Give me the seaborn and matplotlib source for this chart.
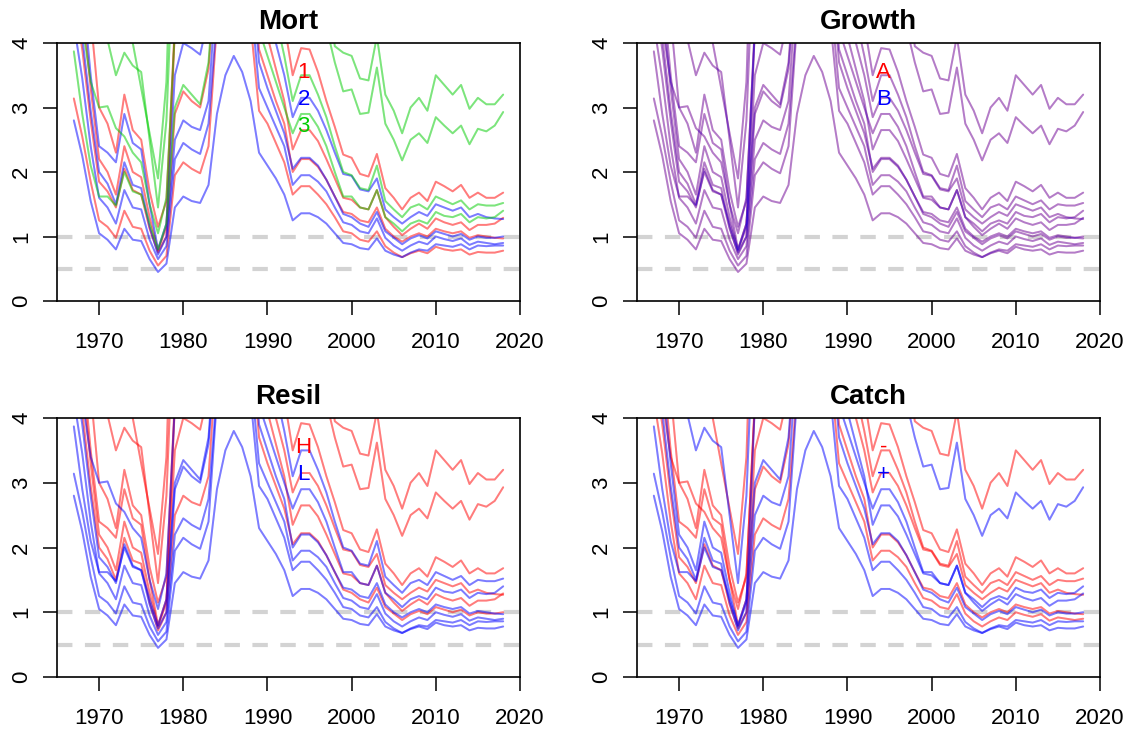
import numpy as np
import pandas as pd
import seaborn as sns
import matplotlib
matplotlib.use('Agg')
import matplotlib.pyplot as plt

sns.set_style('ticks')
plt.rcParams['font.family'] = ['Liberation Sans', 'DejaVu Sans']
plt.rcParams['text.color'] = 'black'
plt.rcParams['xtick.color'] = 'black'
plt.rcParams['ytick.color'] = 'black'

years = list(range(1967, 2019))

# one trajectory per mort x resil x catch scenario (growth A/B are almost identical)
m3_h_minus = [9.00, 7.20, 5.60, 4.80, 4.70, 4.50, 5.00, 4.00, 3.30, 2.60,
              1.90, 3.40, 7.50, 8.20, 7.80, 7.60, 8.60, 13.0, 15.0, 16.0,
              15.0, 13.0, 10.0, 8.80, 7.80, 6.80, 5.60, 6.20, 6.20, 5.80,
              5.00, 3.95, 3.85, 3.80, 3.45, 3.42, 4.10, 3.20, 2.95, 2.60,
              3.00, 3.15, 2.95, 3.50, 3.35, 3.20, 3.35, 2.98, 3.15, 3.05,
              3.05, 3.20]
m3_h_plus = [7.00, 5.50, 4.60, 4.20, 4.05, 3.50, 3.85, 3.65, 3.55, 2.50,
             1.45, 2.80, 6.00, 6.60, 6.30, 6.10, 7.00, 10.5, 12.0, 12.8,
             12.0, 10.5, 8.00, 7.00, 6.20, 5.40, 4.50, 5.00, 5.00, 4.70,
             4.25, 3.70, 3.25, 3.28, 2.90, 2.92, 3.62, 2.75, 2.50, 2.18,
             2.50, 2.60, 2.45, 2.85, 2.72, 2.60, 2.72, 2.43, 2.67, 2.63,
             2.72, 2.93]
m3_l_minus = [5.50, 4.30, 3.40, 3.00, 3.02, 2.68, 2.55, 2.30, 2.15, 1.50,
              1.05, 1.60, 4.20, 4.60, 4.40, 4.30, 5.00, 7.50, 8.80, 9.40,
              8.90, 7.70, 5.60, 5.00, 4.40, 3.80, 3.10, 3.50, 3.50, 3.20,
              2.85, 2.40, 2.00, 1.95, 1.75, 1.72, 2.10, 1.55, 1.42, 1.30,
              1.45, 1.50, 1.42, 1.62, 1.56, 1.50, 1.56, 1.42, 1.50, 1.48,
              1.48, 1.52]
m3_l_plus = [3.87, 2.90, 2.10, 1.62, 1.62, 1.48, 2.00, 1.70, 1.65, 1.20,
             0.80, 1.20, 3.00, 3.35, 3.20, 3.05, 3.70, 5.50, 6.50, 7.00,
             6.60, 5.80, 4.20, 3.80, 3.40, 3.00, 2.60, 2.90, 2.90, 2.70,
             2.40, 2.00, 1.62, 1.62, 1.45, 1.42, 1.72, 1.30, 1.20, 1.08,
             1.20, 1.25, 1.20, 1.38, 1.32, 1.30, 1.35, 1.22, 1.30, 1.28,
             1.30, 1.40]
m1_h_minus = [7.50, 6.00, 4.40, 3.00, 2.75, 2.30, 3.20, 2.65, 2.50, 1.70,
              1.15, 1.55, 4.30, 4.90, 4.70, 4.50, 5.30, 8.30, 9.70, 10.4,
              9.80, 8.50, 6.50, 5.70, 5.00, 4.30, 3.50, 3.92, 3.90, 3.55,
              3.10, 2.70, 2.27, 2.22, 1.97, 1.93, 2.28, 1.75, 1.60, 1.42,
              1.60, 1.68, 1.55, 1.85, 1.78, 1.70, 1.80, 1.60, 1.68, 1.60,
              1.60, 1.68]
m1_h_plus = [5.60, 4.60, 3.30, 2.20, 2.00, 1.65, 2.40, 2.00, 1.92, 1.30,
             0.78, 1.15, 4.20, 4.60, 4.50, 4.40, 5.00, 6.40, 7.50, 8.10,
             7.60, 6.60, 4.70, 4.10, 3.60, 3.10, 2.35, 2.65, 2.65, 2.48,
             2.20, 1.90, 1.60, 1.57, 1.45, 1.42, 1.72, 1.30, 1.15, 1.02,
             1.12, 1.20, 1.12, 1.28, 1.22, 1.18, 1.22, 1.10, 1.18, 1.18,
             1.20, 1.29]
m1_l_minus = [4.80, 3.90, 2.80, 1.85, 1.70, 1.45, 2.05, 1.72, 1.65, 1.12,
              0.75, 1.00, 2.90, 3.25, 3.10, 3.00, 3.60, 5.30, 6.30, 6.80,
              6.40, 5.60, 3.90, 3.50, 3.10, 2.75, 2.00, 2.20, 2.20, 2.08,
              1.88, 1.62, 1.38, 1.35, 1.25, 1.22, 1.45, 1.12, 1.00, 0.92,
              1.00, 1.05, 1.00, 1.12, 1.08, 1.05, 1.08, 0.98, 1.02, 1.00,
              0.98, 0.97]
m1_l_plus = [3.14, 2.55, 1.85, 1.25, 1.15, 0.98, 1.40, 1.15, 1.12, 0.78,
             0.55, 0.70, 1.95, 2.15, 2.05, 1.98, 2.40, 4.30, 5.00, 5.30,
             5.00, 4.30, 2.95, 2.75, 2.45, 2.15, 1.65, 1.78, 1.78, 1.65,
             1.50, 1.30, 1.08, 1.05, 0.95, 0.92, 1.08, 0.85, 0.75, 0.68,
             0.74, 0.78, 0.74, 0.84, 0.80, 0.78, 0.80, 0.72, 0.76, 0.75,
             0.75, 0.78]
m2_h_minus = [6.00, 4.90, 3.50, 2.40, 2.30, 2.15, 2.90, 2.45, 2.35, 1.50,
              0.80, 1.20, 3.50, 4.00, 3.92, 3.82, 4.40, 6.80, 8.00, 8.60,
              8.10, 7.00, 5.00, 4.50, 4.00, 3.50, 2.85, 3.15, 3.15, 2.95,
              2.65, 2.30, 1.97, 1.94, 1.73, 1.70, 1.90, 1.42, 1.30, 1.20,
              1.30, 1.38, 1.32, 1.50, 1.45, 1.40, 1.45, 1.30, 1.35, 1.30,
              1.28, 1.27]
m2_h_plus = [5.00, 4.10, 2.95, 2.00, 1.82, 1.50, 2.15, 1.80, 1.75, 1.15,
             0.72, 1.00, 2.50, 2.80, 2.70, 2.65, 3.10, 5.00, 6.00, 6.50,
             6.10, 5.30, 3.70, 3.30, 2.95, 2.60, 2.05, 2.22, 2.22, 2.10,
             1.88, 1.62, 1.35, 1.30, 1.20, 1.15, 1.38, 1.08, 0.98, 0.88,
             0.97, 1.02, 0.97, 1.08, 1.04, 1.00, 1.04, 0.95, 1.00, 0.98,
             0.98, 1.00]
m2_l_minus = [4.30, 3.45, 2.40, 1.60, 1.45, 1.20, 1.72, 1.45, 1.42, 0.95,
              0.65, 0.85, 2.20, 2.45, 2.35, 2.28, 2.75, 4.40, 5.30, 5.80,
              5.40, 4.70, 3.30, 3.00, 2.70, 2.40, 1.80, 1.95, 1.95, 1.85,
              1.70, 1.45, 1.22, 1.18, 1.08, 1.05, 1.28, 0.98, 0.86, 0.78,
              0.86, 0.92, 0.88, 1.00, 0.96, 0.93, 0.97, 0.87, 0.92, 0.90,
              0.88, 0.90]
m2_l_plus = [2.80, 2.25, 1.55, 1.05, 0.95, 0.80, 1.12, 0.95, 0.93, 0.65,
             0.45, 0.58, 1.45, 1.62, 1.55, 1.52, 1.80, 2.90, 3.50, 3.80,
             3.55, 3.10, 2.30, 2.10, 1.90, 1.65, 1.25, 1.36, 1.36, 1.30,
             1.20, 1.05, 0.90, 0.88, 0.82, 0.80, 0.97, 0.78, 0.72, 0.68,
             0.75, 0.80, 0.78, 0.88, 0.86, 0.84, 0.88, 0.80, 0.86, 0.85,
             0.86, 0.86]

scenarios = [
    ('1', 'H', '-', m1_h_minus), ('1', 'H', '+', m1_h_plus),
    ('1', 'L', '-', m1_l_minus), ('1', 'L', '+', m1_l_plus),
    ('2', 'H', '-', m2_h_minus), ('2', 'H', '+', m2_h_plus),
    ('2', 'L', '-', m2_l_minus), ('2', 'L', '+', m2_l_plus),
    ('3', 'H', '-', m3_h_minus), ('3', 'H', '+', m3_h_plus),
    ('3', 'L', '-', m3_l_minus), ('3', 'L', '+', m3_l_plus),
]
growth_levels = ['A', 'B']

rows = []
for mort, resil, catch, vals in scenarios:
    for growth in growth_levels:
        scen = mort + growth + resil + catch
        for yr, v in zip(years, vals):
            rows.append(dict(year=yr, value=v, Mort=mort, Growth=growth,
                             Resil=resil, Catch=catch, scen=scen))
df = pd.DataFrame(rows)

red, blue, green = '#FF0000', '#0000FF', '#00CD00'
panels = [
    ('Mort', ['1', '2', '3'], [red, blue, green]),
    ('Growth', ['A', 'B'], [red, blue]),
    ('Resil', ['H', 'L'], [red, blue]),
    ('Catch', ['-', '+'], [red, blue]),
]

W, H = 1131, 735
boxes = [(57, 43, 520, 301), (637, 43, 1100, 301),
         (57, 418, 520, 677), (637, 418, 1100, 677)]

fig = plt.figure(figsize=(W / 100, H / 100), dpi=100)

for (name, levels, cols), (x0, y0, x1, y1) in zip(panels, boxes):
    ax = fig.add_axes([x0 / W, 1 - y1 / H, (x1 - x0) / W, (y1 - y0) / H])
    pal = dict(zip(levels, cols))
    sns.lineplot(data=df, x='year', y='value', hue=name, units='scen',
                 estimator=None, palette=pal, hue_order=levels, alpha=0.3,
                 lw=1.4, legend=False, sort=False, ax=ax)
    for h in [1.0, 0.5]:
        ax.axhline(h, color='#d3d3d3', lw=3, dashes=(3.7, 3), zorder=0)
    ax.set_xlim(1965, 2020)
    ax.set_ylim(0, 4)
    ax.set_xticks(range(1970, 2021, 10))
    ax.set_yticks(range(0, 5))
    ax.set_xlabel('')
    ax.set_ylabel('')
    ax.set_title(name, fontsize=20, fontweight='bold', pad=10, color='black')
    ax.tick_params(direction='out', length=10, width=1.1, labelsize=16,
                   colors='black')
    ax.tick_params(axis='x', pad=12)
    ax.tick_params(axis='y', pad=8)
    for lab in ax.get_yticklabels():
        lab.set_rotation(90)
        lab.set_va('center')
    for s in ax.spines.values():
        s.set_visible(True)
        s.set_linewidth(1.2)
        s.set_color('black')
    ypos = [3.55, 3.12, 2.70]
    for lev, col, yy in zip(levels, cols, ypos):
        ax.text(1994.3, yy, lev, color=col, fontsize=16, ha='center',
                va='center')

fig.savefig('out.png', dpi=100)
